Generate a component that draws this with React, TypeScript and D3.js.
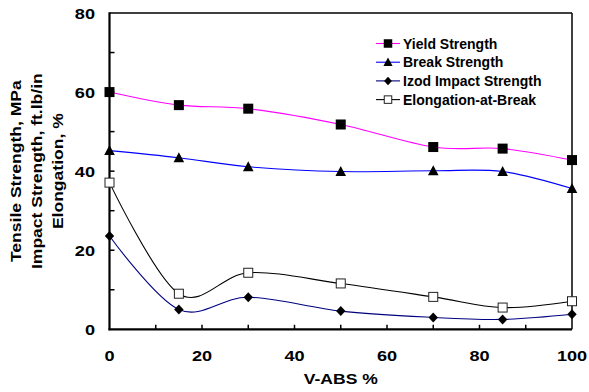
import React from 'react';
import * as d3 from 'd3';

// V-ABS content (%)
const vAbs = [0, 15, 30, 50, 70, 85, 100];
// property values
const yieldStrength = [60, 56.7, 55.8, 51.8, 46.1, 45.7, 42.8];
const breakStrength = [45.2, 43.4, 41.1, 39.9, 40.1, 39.9, 35.6];
const izodImpact = [23.6, 5.0, 8.1, 4.6, 3.0, 2.5, 3.8];
const elongation = [37.1, 9.0, 14.3, 11.6, 8.2, 5.5, 7.1];

const seriesNames = ['Yield Strength', 'Break Strength', 'Izod Impact Strength', 'Elongation-at-Break'];
const yLabelLines = ['Tensile Strength, MPa', 'Impact Strength, ft.lb/in', 'Elongation, %'];
const xTitle = 'V-ABS %';
const xTickLabels = [0, 20, 40, 60, 80, 100];
const yTickLabels = [0, 20, 40, 60, 80];

const W = 589;
const H = 392;
const font = "'Liberation Sans', Arial, sans-serif";
const stretch = 1.17;

type Shape = 'square' | 'triangle' | 'diamond' | 'openSquare';

const series: { name: string; values: number[]; color: string; shape: Shape }[] = [
  { name: seriesNames[0], values: yieldStrength, color: '#ff00ff', shape: 'square' },
  { name: seriesNames[1], values: breakStrength, color: '#0000ff', shape: 'triangle' },
  { name: seriesNames[2], values: izodImpact, color: '#000080', shape: 'diamond' },
  { name: seriesNames[3], values: elongation, color: '#000000', shape: 'openSquare' },
];

const marker = (shape: Shape, cx: number, cy: number, s: number, key?: string | number) => {
  const h = s / 2;
  if (shape === 'square') return <rect key={key} x={cx - h} y={cy - h} width={s} height={s} fill="#000" />;
  if (shape === 'openSquare')
    return <rect key={key} x={cx - h + 0.5} y={cy - h + 0.5} width={s - 1} height={s - 1} fill="#fff" stroke="#222" strokeWidth={1} />;
  if (shape === 'triangle')
    return <path key={key} d={`M${cx},${cy - h - 0.5}L${cx + h + 0.3},${cy + h - 0.5}L${cx - h - 0.3},${cy + h - 0.5}Z`} fill="#000" />;
  return <path key={key} d={`M${cx},${cy - h}L${cx + h - 0.3},${cy}L${cx},${cy + h}L${cx - h + 0.3},${cy}Z`} fill="#000" />;
};

export default function App() {
  const x = d3.scaleLinear().domain([0, 100]).range([109.5, 572]);
  const y = d3.scaleLinear().domain([0, 80]).range([329.3, 13]);

  const line = d3
    .line<number>()
    .x((_, i) => x(vAbs[i]))
    .y((d) => y(d))
    .curve(d3.curveCardinal.tension(0));

  const xMinor = d3.range(10, 100, 10);
  const yMinor = d3.range(10, 80, 10);

  const legendX = 376;
  const legendY = 43.5;
  const legendStep = 18.7;

  return (
    <svg width={W} height={H} style={{ position: 'absolute', left: 0, top: 0, display: 'block', background: '#fff' }}>
      <rect width={W} height={H} fill="#fff" />

      {/* frame */}
      <line x1={x(0)} x2={x(100)} y1={y(80)} y2={y(80)} stroke="#000" strokeWidth={1.4} />
      <line x1={x(100)} x2={x(100)} y1={y(80)} y2={y(0)} stroke="#000" strokeWidth={1.5} />

      {/* ticks */}
      {xMinor.map((t) => (
        <line key={'xt' + t} x1={x(t)} x2={x(t)} y1={y(0)} y2={y(0) - 4.5} stroke="#000" strokeWidth={1.5} />
      ))}
      {yMinor.map((t) => (
        <line key={'yt' + t} x1={x(0)} x2={x(0) + 5} y1={y(t)} y2={y(t)} stroke="#000" strokeWidth={1.5} />
      ))}

      {/* axes */}
      <line x1={x(0)} x2={x(0)} y1={y(80) - 0.7} y2={y(0) + 1} stroke="#000" strokeWidth={2.2} />
      <line x1={x(0) - 1} x2={x(100)} y1={y(0)} y2={y(0)} stroke="#000" strokeWidth={2.2} />

      {/* tick labels */}
      {yTickLabels.map((t) => (
        <text
          key={'yl' + t}
          transform={`translate(95,${y(t) + 5.6}) scale(${stretch},1)`}
          textAnchor="end"
          fontFamily={font}
          fontWeight="bold"
          fontSize={15.5}
        >
          {t}
        </text>
      ))}
      {xTickLabels.map((t) => (
        <text
          key={'xl' + t}
          transform={`translate(${x(t)},361) scale(${stretch},1)`}
          textAnchor="middle"
          fontFamily={font}
          fontWeight="bold"
          fontSize={15.5}
        >
          {t}
        </text>
      ))}

      {/* axis titles */}
      <text
        transform={`translate(${(x(0) + x(100)) / 2},383.5) scale(${stretch},1)`}
        textAnchor="middle"
        fontFamily={font}
        fontWeight="bold"
        fontSize={15}
      >
        {xTitle}
      </text>
      {yLabelLines.map((l, i) => (
        <text
          key={'yt' + i}
          transform={`translate(${21 + i * 20.8},${(y(0) + y(80)) / 2}) rotate(-90) scale(${stretch},1)`}
          textAnchor="middle"
          fontFamily={font}
          fontWeight="bold"
          fontSize={15}
        >
          {l}
        </text>
      ))}

      {/* series */}
      {series.map((s) => (
        <g key={s.name}>
          <path d={line(s.values) || ''} fill="none" stroke={s.color} strokeWidth={1.1} />
          {s.values.map((v, i) => marker(s.shape, x(vAbs[i]), y(v), 10, i))}
        </g>
      ))}

      {/* legend */}
      {series.map((s, i) => {
        const cy = legendY + i * legendStep;
        return (
          <g key={'lg' + i}>
            <line x1={legendX} x2={legendX + 24} y1={cy} y2={cy} stroke={s.color} strokeWidth={1.1} />
            {marker(s.shape, legendX + 12, cy, 8.5)}
            <text x={legendX + 27} y={cy + 5} fontFamily={font} fontWeight="bold" fontSize={14}>
              {s.name}
            </text>
          </g>
        );
      })}
    </svg>
  );
}
